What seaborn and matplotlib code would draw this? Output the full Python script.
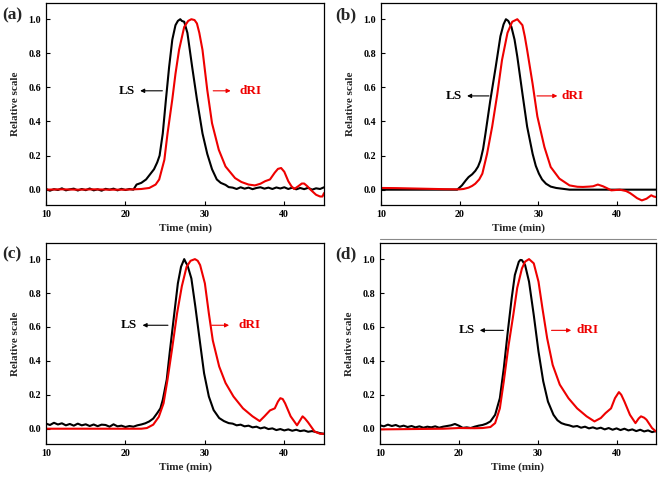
import matplotlib
matplotlib.use('Agg')
import matplotlib.pyplot as plt
from matplotlib.lines import Line2D
import pandas as pd
import seaborn as sns

red = '#EE0000'

# (a)
a_ls_t = [10, 10.5, 11, 11.5, 12, 12.5, 13, 13.5, 14, 14.5, 15, 15.5, 16, 16.5, 17, 17.5, 18, 18.5,
          19, 19.5, 20, 20.5, 21, 21.4, 22.0, 22.6, 23.1, 23.6, 24.0, 24.3, 24.7, 25.1, 25.5, 25.9,
          26.3, 26.6, 26.9, 27.1, 27.4, 27.8, 28.4, 29.0, 29.7, 30.3, 30.9, 31.5, 32.0, 32.6, 33.0,
          33.5, 34, 34.5, 35, 35.5, 36, 36.5, 37, 37.5, 38, 38.5, 39, 39.5, 40, 40.5, 41, 41.5, 42,
          42.5, 43, 43.5, 44, 44.5, 45]
a_ls_v = [0.004, -0.006, 0.003, -0.002, 0.008, -0.004, 0.002, 0.006, -0.005, 0.004, -0.003, 0.007,
          -0.004, 0.002, -0.006, 0.005, 0.0, 0.006, -0.004, 0.005, -0.002, 0.004, 0.0, 0.03, 0.04,
          0.06, 0.09, 0.12, 0.16, 0.2, 0.33, 0.53, 0.72, 0.88, 0.965, 0.99, 1.0, 0.99, 0.985, 0.92,
          0.72, 0.53, 0.33, 0.21, 0.12, 0.06, 0.04, 0.028, 0.015, 0.012, 0.004, 0.014, 0.006, 0.012,
          0.003, 0.01, 0.014, 0.006, 0.012, 0.004, 0.013, 0.007, 0.014, 0.004, 0.012, 0.002, 0.01,
          0.003, 0.011, 0.0, 0.008, 0.004, 0.014]
a_dri_t = [10, 12, 14, 16, 18, 20, 21, 22, 23, 23.8, 24.25, 24.9, 25.3, 25.9, 26.3, 26.75, 27.4,
           27.9, 28.3, 28.7, 29.0, 29.3, 29.7, 30.3, 30.9, 31.75, 32.6, 33.8, 34.6, 35.5, 36.3, 37.0,
           37.6, 38.2, 38.8, 39.2, 39.6, 40.0, 40.5, 40.9, 41.25, 41.75, 42.2, 42.5, 42.9, 43.3, 44.0,
           44.5, 44.8, 45]
a_dri_v = [0.0, 0.002, 0.0, 0.002, 0.0, 0.0, 0.002, 0.004, 0.01, 0.03, 0.06, 0.175, 0.33, 0.53,
           0.68, 0.82, 0.955, 0.99, 1.0, 0.995, 0.975, 0.92, 0.82, 0.585, 0.39, 0.234, 0.136, 0.068,
           0.045, 0.03, 0.025, 0.035, 0.05, 0.06, 0.1, 0.122, 0.127, 0.105, 0.05, 0.02, 0.004, 0.02,
           0.036, 0.036, 0.02, 0.0, -0.03, -0.04, -0.04, -0.02]

# (b)
b_ls_t = [10, 15, 19.7, 20.3, 20.8, 21.15, 21.6, 22.0, 22.35, 22.65, 23.0, 23.3, 23.9, 24.6, 25.2,
          25.6, 25.9, 26.2, 26.6, 27.0, 27.35, 28.0, 28.6, 29.3, 29.7, 30.1, 30.5, 31.0, 31.6, 32.3,
          34.0, 45]
b_ls_v = [0.0, 0.0, 0.0, 0.025, 0.055, 0.074, 0.09, 0.11, 0.135, 0.17, 0.24, 0.33, 0.52, 0.72, 0.9,
          0.97, 1.0, 0.99, 0.955, 0.88, 0.78, 0.564, 0.37, 0.21, 0.14, 0.094, 0.06, 0.035, 0.018,
          0.01, 0.0, 0.0]
b_dri_t = [10, 12, 14, 16, 18, 20, 20.5, 21.15, 21.6, 22.0, 22.5, 22.9, 23.5, 24.15, 24.8, 25.4,
           26.1, 26.7, 27.35, 28.0, 28.3, 28.6, 29.3, 29.9, 30.8, 31.6, 32.7, 34.0, 35.0, 35.7, 36.5,
           37.0, 37.6, 38.25, 38.8, 39.3, 40.4, 41.2, 41.7, 42.1, 42.6, 43.2, 43.8, 44.4, 44.7, 45]
b_dri_v = [0.01, 0.009, 0.007, 0.005, 0.003, 0.002, 0.004, 0.012, 0.022, 0.035, 0.06, 0.094, 0.21,
           0.37, 0.56, 0.76, 0.92, 0.985, 1.0, 0.965, 0.9, 0.82, 0.62, 0.43, 0.25, 0.133, 0.065,
           0.025, 0.017, 0.016, 0.018, 0.02, 0.03, 0.02, 0.008, -0.004, 0.0, -0.008, -0.02, -0.033,
           -0.05, -0.063, -0.053, -0.033, -0.04, -0.043]

# (c)
c_ls_t = [10, 10.5, 11, 11.5, 12, 12.5, 13, 13.5, 14, 14.5, 15, 15.5, 16, 16.5, 17, 17.5, 18, 18.5,
          19, 19.5, 20, 20.5, 21, 21.5, 22, 22.5, 23.0, 23.5, 24.0, 24.4, 24.7, 25.2, 25.6, 26.1,
          26.6, 27.0, 27.4, 27.6, 27.8, 28.3, 28.8, 29.4, 29.9, 30.5, 31.1, 31.8, 32.4, 33.0, 33.5,
          34, 34.5, 35, 35.5, 36, 36.5, 37, 37.5, 38, 38.5, 39, 39.5, 40, 40.5, 41, 41.5, 42, 42.5,
          43, 43.5, 44, 44.5, 45]
c_ls_v = [0.03, 0.022, 0.035, 0.025, 0.032, 0.02, 0.028, 0.018, 0.03, 0.02, 0.026, 0.016, 0.025,
          0.015, 0.024, 0.022, 0.012, 0.026, 0.014, 0.018, 0.01, 0.016, 0.012, 0.02, 0.025, 0.032,
          0.043, 0.06, 0.092, 0.12, 0.17, 0.29, 0.46, 0.66, 0.857, 0.955, 1.0, 0.98, 0.965, 0.886,
          0.72, 0.504, 0.327, 0.19, 0.11, 0.063, 0.045, 0.033, 0.03, 0.02, 0.024, 0.014, 0.018,
          0.008, 0.012, 0.002, 0.008, -0.002, 0.002, -0.008, -0.002, -0.01, -0.004, -0.012, -0.006,
          -0.014, -0.01, -0.018, -0.014, -0.02, -0.026, -0.03]
c_dri_t = [10, 14, 18, 22, 22.7, 23.5, 24.2, 24.8, 25.3, 25.9, 26.5, 27.1, 27.7, 28.2, 28.75, 29.1,
           29.4, 30.0, 30.5, 31.0, 31.8, 32.6, 33.6, 34.8, 36.0, 36.9, 37.5, 38.2, 38.8, 39.2, 39.5,
           39.8, 40.1, 40.8, 41.6, 42.0, 42.3, 42.6, 43.0, 43.8, 44.5, 45]
c_dri_v = [0.0, 0.0, 0.0, 0.0, 0.004, 0.024, 0.07, 0.15, 0.29, 0.48, 0.68, 0.84, 0.955, 0.99, 1.0,
           0.99, 0.965, 0.857, 0.68, 0.52, 0.367, 0.27, 0.19, 0.12, 0.073, 0.045, 0.073, 0.108, 0.12,
           0.16, 0.18, 0.175, 0.15, 0.073, 0.02, 0.05, 0.073, 0.06, 0.037, -0.016, -0.03, -0.03]

# (d)
d_ls_t = [10, 10.5, 11, 11.5, 12, 12.5, 13, 13.5, 14, 14.5, 15, 15.5, 16, 16.5, 17, 17.5, 18, 18.5,
          19, 19.5, 20, 20.5, 21, 21.5, 22, 22.5, 23, 23.5, 24.0, 24.6, 25.2, 25.7, 26.2, 26.7, 27.1,
          27.6, 27.8, 28.0, 28.4, 28.9, 29.5, 30.1, 30.7, 31.3, 32.0, 32.5, 33.0, 33.5, 34, 34.5, 35,
          35.5, 36, 36.5, 37, 37.5, 38, 38.5, 39, 39.5, 40, 40.5, 41, 41.5, 42, 42.5, 43, 43.5, 44,
          44.5, 45]
d_ls_v = [0.02, 0.014, 0.024, 0.016, 0.022, 0.012, 0.018, 0.01, 0.016, 0.008, 0.014, 0.006, 0.012,
          0.008, 0.014, 0.006, 0.012, 0.016, 0.02, 0.028, 0.018, 0.005, 0.008, 0.004, 0.012, 0.018,
          0.022, 0.03, 0.043, 0.082, 0.18, 0.357, 0.57, 0.77, 0.906, 0.984, 0.995, 0.994, 0.965,
          0.867, 0.67, 0.455, 0.28, 0.16, 0.082, 0.05, 0.033, 0.025, 0.02, 0.012, 0.016, 0.006, 0.012,
          0.002, 0.008, 0.0, 0.006, -0.004, 0.004, -0.006, 0.002, -0.008, 0.0, -0.01, -0.004, -0.014,
          -0.006, -0.016, -0.01, -0.02, -0.014]
d_dri_t = [10, 14, 18, 20, 22, 23, 24, 24.6, 25.2, 25.7, 26.3, 26.9, 27.4, 28.0, 28.4, 28.9, 29.5,
           30.1, 30.6, 31.2, 31.9, 32.8, 33.9, 35.0, 36.2, 37.2, 38.0, 38.6, 39.3, 39.8, 40.3, 40.6,
           41.0, 41.7, 42.4, 42.8, 43.1, 43.5, 43.8, 44.5, 45]
d_dri_v = [-0.004, -0.002, 0.0, 0.004, 0.003, 0.004, 0.01, 0.033, 0.12, 0.28, 0.49, 0.67, 0.83,
           0.945, 0.985, 1.0, 0.975, 0.867, 0.71, 0.533, 0.376, 0.26, 0.18, 0.12, 0.073, 0.043, 0.063,
           0.092, 0.12, 0.18, 0.216, 0.2, 0.16, 0.082, 0.033, 0.06, 0.073, 0.065, 0.053, 0.004,
           -0.016]

panels = [
    # LS / dRI annotations: (text x, arrow start, arrow tip, y)
    {"label": "(a)", "rect": [0.0696, 0.572, 0.4206, 0.4217], "lab_xy": (0.003, 0.967),
     "ls": (a_ls_t, a_ls_v), "dri": (a_dri_t, a_dri_v),
     "ls_ann": (21.2, 25.0, 21.5, 0.58), "dri_ann": (34.4, 30.7, 33.6, 0.58)},
    {"label": "(b)", "rect": [0.5764, 0.572, 0.4160, 0.4217], "lab_xy": (0.507, 0.967),
     "ls": (b_ls_t, b_ls_v), "dri": (b_dri_t, b_dri_v),
     "ls_ann": (20.3, 24.1, 20.6, 0.55), "dri_ann": (33.0, 29.5, 32.8, 0.55)},
    {"label": "(c)", "rect": [0.0696, 0.0731, 0.4206, 0.4196], "lab_xy": (0.003, 0.468),
     "ls": (c_ls_t, c_ls_v), "dri": (c_dri_t, c_dri_v),
     "ls_ann": (21.5, 25.7, 21.8, 0.61), "dri_ann": (34.2, 30.5, 33.4, 0.61)},
    {"label": "(d)", "rect": [0.5749, 0.0731, 0.4175, 0.4196], "lab_xy": (0.507, 0.468),
     "ls": (d_ls_t, d_ls_v), "dri": (d_dri_t, d_dri_v),
     "ls_ann": (22.0, 26.0, 22.3, 0.58), "dri_ann": (34.9, 31.4, 34.6, 0.58)},
]


def main():
    sns.set_theme(style='ticks')
    plt.rcParams['font.family'] = ['Liberation Serif', 'DejaVu Serif']
    plt.rcParams['font.weight'] = 'bold'

    fig = plt.figure(figsize=(6.61, 4.79), dpi=100)

    for p in panels:
        ax = fig.add_axes(p["rect"])
        ls = pd.DataFrame({'t': p["ls"][0], 'v': p["ls"][1]})
        dri = pd.DataFrame({'t': p["dri"][0], 'v': p["dri"][1]})
        sns.lineplot(data=ls, x='t', y='v', color='black', lw=1.5, ax=ax)
        sns.lineplot(data=dri, x='t', y='v', color=red, lw=1.5, ax=ax)

        ax.set_xlim(10, 45)
        ax.set_ylim(-0.09, 1.095)
        ax.set_xticks([10, 20, 30, 40])
        ax.set_yticks([0.0, 0.2, 0.4, 0.6, 0.8, 1.0])
        ax.set_yticklabels(['0.0', '0.2', '0.4', '0.6', '0.8', '1.0'])
        ax.tick_params(direction='in', length=3, width=0.8, labelsize=7.2, pad=3.5, colors='black')
        for s in ax.spines.values():
            s.set_linewidth(0.9)
            s.set_color('black')
        ax.set_xlabel('Time (min)', fontsize=8, fontweight='bold', labelpad=3.5)
        ax.set_ylabel('Relative scale', fontsize=8, fontweight='bold', labelpad=6)

        tx, a0, a1, y = p["ls_ann"]
        ax.text(tx, y, 'LS', ha='right', va='center', fontsize=9.5, fontweight='bold', color='black')
        ax.annotate('', xy=(a1, y), xytext=(a0, y),
                    arrowprops=dict(arrowstyle='-|>', color='black', lw=0.8, mutation_scale=6))
        tx, a0, a1, y = p["dri_ann"]
        ax.text(tx, y, 'dRI', ha='left', va='center', fontsize=9.5, fontweight='bold', color=red)
        ax.annotate('', xy=(a1, y), xytext=(a0, y),
                    arrowprops=dict(arrowstyle='-|>', color=red, lw=0.8, mutation_scale=6))

        fig.text(p["lab_xy"][0], p["lab_xy"][1], p["label"], ha='left', va='center',
                 fontsize=12.5, fontweight='bold')

    # faint rule under panel (b)
    fig.add_artist(Line2D([0.575, 0.993], [0.501, 0.501], color='#8a8a8a', lw=0.8))

    fig.savefig('out.png', dpi=100)
    plt.close(fig)


if __name__ == '__main__':
    main()
